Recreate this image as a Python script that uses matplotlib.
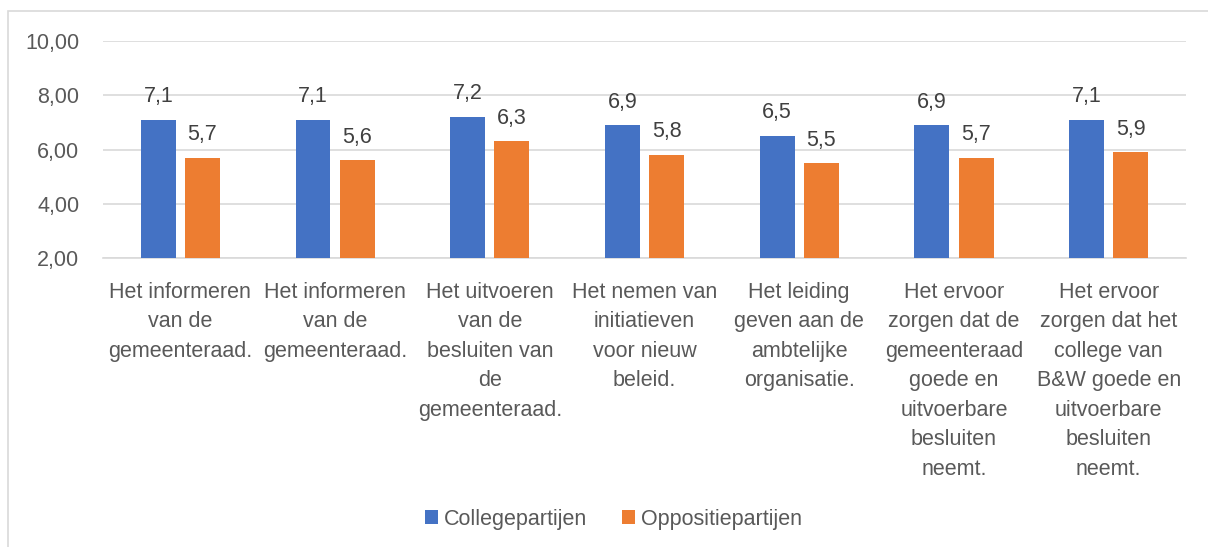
import numpy as np
import matplotlib.pyplot as plt
from matplotlib.patches import Rectangle

plt.rcParams['font.family'] = ['Liberation Sans', 'DejaVu Sans']

categories = [
    "Het informeren\nvan de\ngemeenteraad.",
    "Het informeren\nvan de\ngemeenteraad.",
    "Het uitvoeren\nvan de\nbesluiten van\nde\ngemeenteraad.",
    "Het nemen van\ninitiatieven\nvoor nieuw\nbeleid.",
    "Het leiding\ngeven aan de\nambtelijke\norganisatie.",
    "Het ervoor\nzorgen dat de\ngemeenteraad\ngoede en\nuitvoerbare\nbesluiten\nneemt.",
    "Het ervoor\nzorgen dat het\ncollege van\nB&W goede en\nuitvoerbare\nbesluiten\nneemt.",
]
college = [7.1, 7.1, 7.2, 6.9, 6.5, 6.9, 7.1]
oppositie = [5.7, 5.6, 6.3, 5.8, 5.5, 5.7, 5.9]
y_ticks = [2, 4, 6, 8, 10]

blue = "#4472C4"
orange = "#ED7D31"
txt = "#595959"
fs = 15.5

fig = plt.figure(figsize=(12.08, 5.47), dpi=100)
ax = fig.add_axes([0.0853, 0.5283, 0.8965, 0.3967])

# chart frame
fig.patches.append(Rectangle((8 / 1208, -0.05), 1.1, 1 - 11 / 547 + 0.05,
                             transform=fig.transFigure, fill=False,
                             edgecolor="#d9d9d9", linewidth=1.2))

x = np.arange(len(categories))
w = 0.226
b1 = ax.bar(x - 0.143, college, w, color=blue, label="Collegepartijen", zorder=3)
b2 = ax.bar(x + 0.143, oppositie, w, color=orange, label="Oppositiepartijen", zorder=3)

for bars, vals in ((b1, college), (b2, oppositie)):
    for r, v in zip(bars, vals):
        ax.annotate(f"{v:.1f}".replace(".", ","), (r.get_x() + r.get_width() / 2, v),
                    xytext=(0, 9), textcoords="offset points", ha="center", va="bottom",
                    fontsize=fs, color="#404040")

ax.set_ylim(2, 10)
ax.set_xlim(-0.5, len(categories) - 0.5)
ax.set_yticks(y_ticks)
ax.set_yticklabels([f"{t:.2f}".replace(".", ",") for t in y_ticks], fontsize=fs, color=txt)
ax.set_xticks(x)
ax.set_xticklabels(categories, fontsize=fs, color=txt, linespacing=1.53)
ax.tick_params(axis="both", length=0)
ax.tick_params(axis="y", pad=17)
ax.tick_params(axis="x", pad=17)
ax.yaxis.grid(True, color="#d9d9d9", linewidth=1.2, zorder=0)
for s in ["top", "right", "left"]:
    ax.spines[s].set_visible(False)
ax.spines["bottom"].set_color("#d9d9d9")
ax.spines["bottom"].set_linewidth(1.2)

leg = fig.legend(loc="center", bbox_to_anchor=(0.508, 0.051), ncol=2, frameon=False,
                 fontsize=fs, handlelength=0.6, handleheight=0.6, handletextpad=0.3,
                 columnspacing=1.6)
for t in leg.get_texts():
    t.set_color(txt)

fig.savefig("out.png", dpi=100)
